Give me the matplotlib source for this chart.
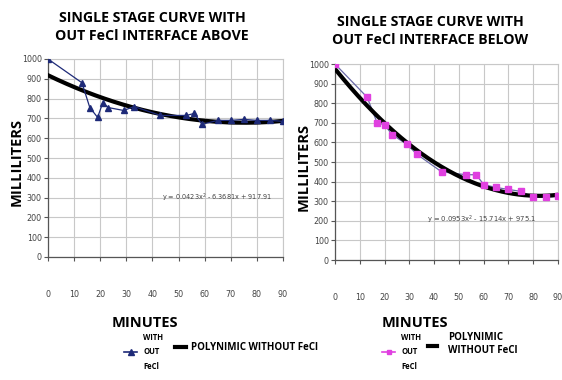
import numpy as np
import matplotlib
matplotlib.use('Agg')
import matplotlib.pyplot as plt

# Daten links (Interface oben)
minuten_oben = [0, 13, 16, 19, 21, 23, 29, 33, 43, 53, 56, 59, 65, 70, 75, 80, 85, 90]
ml_oben = [1000, 880, 755, 705, 780, 755, 740, 760, 715, 715, 725, 670, 690, 690, 695, 690, 690, 685]
koeff_oben = [0.0423, -6.3681, 917.91]

# Daten rechts (Interface unten)
minuten_unten = [0, 13, 17, 20, 23, 29, 33, 43, 53, 57, 60, 65, 70, 75, 80, 85, 90]
ml_unten = [1000, 830, 700, 690, 640, 590, 540, 450, 435, 435, 385, 370, 360, 350, 320, 320, 325]
koeff_unten = [0.0953, -15.714, 975.1]

x_ticks = [0, 10, 20, 30, 40, 50, 60, 70, 80, 90]
x_tick_labels = ['0', '10', '20', '30', '40', '50', '60', '70', '80', '90']
y_ticks = [0, 100, 200, 300, 400, 500, 600, 700, 800, 900, 1000]

titel_oben = 'SINGLE STAGE CURVE WITH\nOUT FeCl INTERFACE ABOVE'
titel_unten = 'SINGLE STAGE CURVE WITH\nOUT FeCl INTERFACE BELOW'
gleichung_oben = 'y = 0.0423x$^{2}$ - 6.3681x + 917.91'
gleichung_unten = 'y = 0.0953x$^{2}$ - 15.714x + 975.1'

W, H = 562, 380
fig = plt.figure(figsize=(W / 100, H / 100), dpi=100)
fett = dict(family='Open Sans', weight='bold')


def px(x, y):
    return x / W, 1 - y / H


def achse_bauen(links, oben, rechts, unten):
    ax = fig.add_axes([links / W, 1 - unten / H, (rechts - links) / W, (unten - oben) / H])
    ax.set_xlim(0, 90)
    ax.set_ylim(0, 1000)
    ax.set_xticks(x_ticks)
    ax.set_xticklabels(x_tick_labels)
    ax.set_yticks(y_ticks)
    ax.grid(True, color='#c8c8c8', linewidth=0.8)
    ax.set_axisbelow(True)
    for s in ['top', 'right']:
        ax.spines[s].set_color('#c8c8c8')
    for s in ['left', 'bottom']:
        ax.spines[s].set_color('#555555')
        ax.spines[s].set_linewidth(0.9)
    ax.tick_params(direction='out', length=3, width=0.8, color='#555555',
                   labelsize=5.8, labelcolor='#444444', pad=1.5)
    ax.tick_params(axis='x', pad=21)
    return ax


def trend(ax, koeff):
    xs = np.linspace(0, 90, 200)
    ax.plot(xs, np.polyval(koeff, xs), color='black', linewidth=3, zorder=3)


# linkes Diagramm
ax1 = achse_bauen(48, 59, 283, 257)
ax1.plot(minuten_oben, ml_oben, color='#1e2a78', linewidth=0.9, marker='^',
         markersize=4, zorder=4)
trend(ax1, koeff_oben)
ax1.text(43.5, 298, gleichung_oben, fontsize=4.7, color='#444444', va='center',
         zorder=5)

# rechtes Diagramm
ax2 = achse_bauen(335, 64, 558, 260)
ax2.plot(minuten_unten, ml_unten, color='#6a6aa8', linewidth=0.9, zorder=2)
ax2.plot(minuten_unten, ml_unten, linestyle='none', color='#e040e0', marker='s',
         markersize=4, zorder=4)
trend(ax2, koeff_unten)
ax2.text(37, 204, gleichung_unten, fontsize=4.9, color='#444444', va='center',
         zorder=5)

# Titel und Achsenbeschriftungen
fig.text(*px(152, 27), titel_oben, ha='center', va='center', fontsize=10.2,
         linespacing=1.35, **fett)
fig.text(*px(430, 31), titel_unten, ha='center', va='center', fontsize=10.2,
         linespacing=1.35, **fett)
fig.text(*px(17, 162), 'MILLILITERS', rotation=90, ha='center', va='center',
         fontsize=10.5, **fett)
fig.text(*px(304, 167), 'MILLILITERS', rotation=90, ha='center', va='center',
         fontsize=10.5, **fett)
fig.text(*px(145, 323), 'MINUTES', ha='center', va='center', fontsize=10.5, **fett)
fig.text(*px(415, 323), 'MINUTES', ha='center', va='center', fontsize=10.5, **fett)

# Legenden
leg_ax = fig.add_axes([0, 0, 1, 1], facecolor='none')
leg_ax.set_xlim(0, W)
leg_ax.set_ylim(H, 0)
leg_ax.axis('off')
leg_ax.plot([124, 137], [352, 352], color='#1e2a78', linewidth=1.2)
leg_ax.plot([130.5], [352], marker='^', color='#1e2a78', markersize=4)
leg_ax.text(143, 352, 'WITH\nOUT\nFeCl', fontsize=5.5, va='center', ha='left',
            linespacing=1.8, **fett)
leg_ax.plot([175, 186], [347, 347], color='black', linewidth=3)
leg_ax.text(191, 347, 'POLYNIMIC WITHOUT FeCl', fontsize=7, va='center', ha='left', **fett)

leg_ax.plot([382, 395], [352, 352], color='#e040e0', linewidth=1.2)
leg_ax.plot([388.5], [352], marker='s', color='#e040e0', markersize=3)
leg_ax.text(401, 352, 'WITH\nOUT\nFeCl', fontsize=5.5, va='center', ha='left',
            linespacing=1.8, **fett)
leg_ax.plot([428, 437], [346, 346], color='black', linewidth=3)
leg_ax.text(448, 344, 'POLYNIMIC\nWITHOUT FeCl', fontsize=7, va='center', ha='left',
            linespacing=1.3, **fett)

fig.savefig('out.png', dpi=100)
plt.close(fig)
